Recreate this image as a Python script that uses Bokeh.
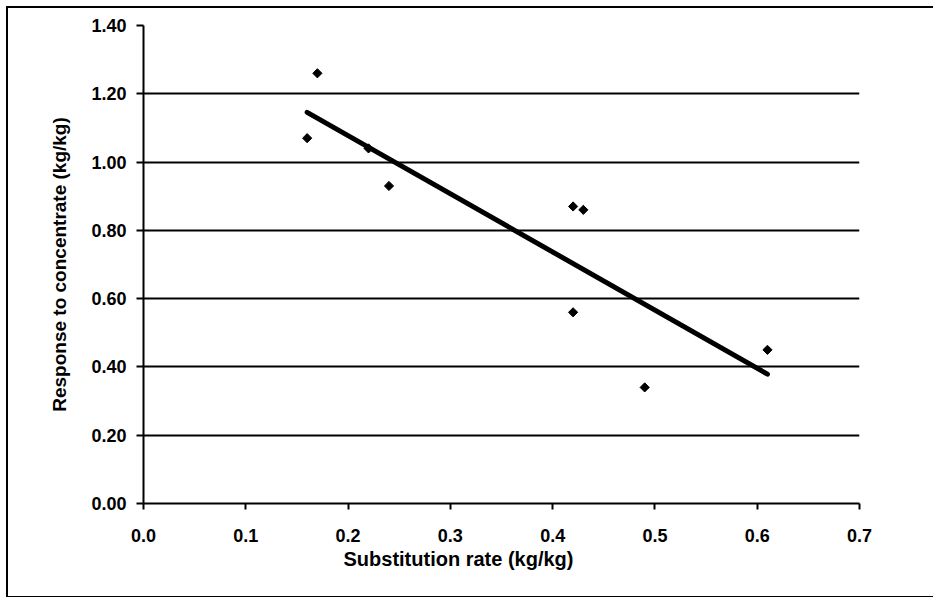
import numpy as np
from bokeh.plotting import figure
from bokeh.models import FixedTicker, PrintfTickFormatter, Title, Range1d
from bokeh.embed import file_html
from bokeh.resources import INLINE

# Data
substitution_rate = [0.16, 0.17, 0.22, 0.24, 0.42, 0.43, 0.42, 0.49, 0.61]
response = [1.07, 1.26, 1.04, 0.93, 0.87, 0.86, 0.56, 0.34, 0.45]
x_ticks = [0.0, 0.1, 0.2, 0.3, 0.4, 0.5, 0.6, 0.7]
y_ticks = [0.0, 0.2, 0.4, 0.6, 0.8, 1.0, 1.2, 1.4]

# Linear trend line (least squares) over the data's x span
slope, intercept = np.polyfit(substitution_rate, response, 1)
trend_x = [min(substitution_rate), max(substitution_rate)]
trend_y = [intercept + slope * v for v in trend_x]

FONT = "Liberation Sans"

p = figure(width=950, height=592, output_backend="svg", toolbar_location=None,
           x_range=Range1d(0, 0.7), y_range=Range1d(0, 1.4),
           min_border_left=135, min_border_top=17, min_border_right=99,
           min_border_bottom=97)
p.styles = {"border": "2px solid black", "margin-left": "6px", "margin-top": "6px"}
p.outline_line_color = None
p.background_fill_color = "white"
p.border_fill_color = "white"

p.xgrid.visible = False
p.ygrid.ticker = FixedTicker(ticks=y_ticks)
p.ygrid.grid_line_color = "black"
p.ygrid.grid_line_width = 2

for ax in (p.xaxis[0], p.yaxis[0]):
    ax.axis_line_color = "black"
    ax.axis_line_width = 2
    ax.major_tick_line_color = "black"
    ax.major_tick_line_width = 2
    ax.major_tick_in = 0
    ax.minor_tick_line_color = None
    ax.major_label_text_font = FONT
    ax.major_label_text_font_style = "bold"
    ax.major_label_text_font_size = "18px"
    ax.major_label_text_color = "black"

p.xaxis.ticker = FixedTicker(ticks=x_ticks)
p.xaxis.formatter = PrintfTickFormatter(format="%.1f")
p.xaxis.major_tick_out = 6
p.xaxis.major_label_standoff = 19

p.yaxis.ticker = FixedTicker(ticks=y_ticks)
p.yaxis.formatter = PrintfTickFormatter(format="%.2f")
p.yaxis.major_tick_out = 7
p.yaxis.major_label_standoff = 10
p.yaxis.axis_label = "Response to concentrate (kg/kg)"
p.yaxis.axis_label_text_font = FONT
p.yaxis.axis_label_text_font_style = "bold"
p.yaxis.axis_label_text_font_size = "19px"
p.yaxis.axis_label_standoff = 18
p.yaxis.axis_label_text_color = "black"

xt = Title(text="Substitution rate (kg/kg)", align="left", offset=200,
           text_font=FONT, text_font_style="bold", text_font_size="20px",
           text_color="black", standoff=2)
p.add_layout(xt, "below")

p.line(trend_x, trend_y, line_color="black", line_width=5, line_cap="round")
p.scatter(substitution_rate, response, marker="square", size=6.5, angle=np.pi / 4,
          fill_color="black", line_color="black")

open("out.html", "w").write(file_html(p, INLINE))
